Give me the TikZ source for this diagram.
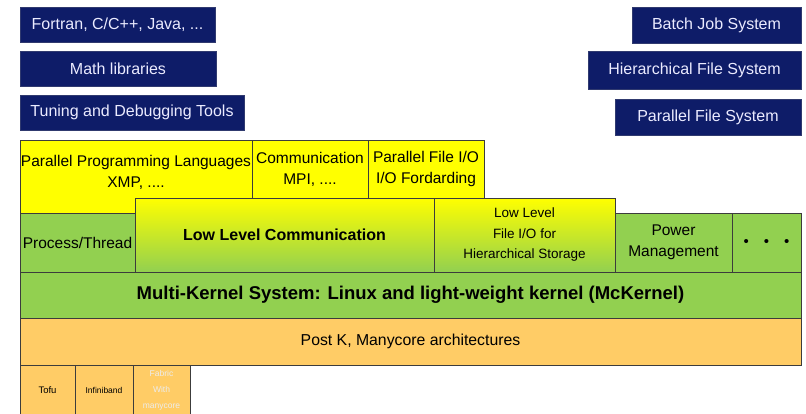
\documentclass[tikz,border=0pt]{standalone}
\usepackage{fontspec}
\setmainfont{Liberation Sans}
\definecolor{navy}{RGB}{14,28,104}
\definecolor{grn}{RGB}{146,208,80}
\definecolor{ylw}{RGB}{255,255,0}
\definecolor{org}{RGB}{255,204,102}
\definecolor{edge}{RGB}{60,60,60}
\tikzset{
  base/.style={anchor=north west, inner sep=0pt, outer sep=0pt, align=center},
  navybox/.style={base, fill=navy, draw=navy!70!gray, line width=0.6pt, text=white!92!blue, font=\fontsize{16}{18}\selectfont},
  ylwbox/.style={base, fill=ylw, draw=edge, line width=0.7pt, font=\fontsize{15.5}{21}\selectfont},
  grnbox/.style={base, fill=grn, draw=edge, line width=0.7pt, font=\fontsize{15.5}{21}\selectfont},
  gradbox/.style={base, draw=edge, line width=0.7pt, top color=ylw, middle color=grn, bottom color=grn},
  orgbox/.style={base, fill=org, draw=edge, line width=0.7pt, font=\fontsize{15.8}{18}\selectfont},
  tinybox/.style={base, fill=org, draw=edge, line width=0.7pt, font=\fontsize{8.5}{16}\selectfont},
}
\begin{document}
\begin{tikzpicture}[x=1pt,y=-1pt]
\useasboundingbox[fill=white] (0,0) rectangle (806,413);
% navy boxes
\node[navybox, minimum width=195pt, minimum height=35pt] (fortran) at (20,7) {Fortran, C/C++, Java, ...};
\node[navybox, minimum width=196pt, minimum height=35pt] (math) at (20,51) {Math libraries};
\node[navybox, minimum width=224pt, minimum height=35pt] (tuning) at (20,95) {Tuning and Debugging Tools};
\node[navybox, minimum width=169pt, minimum height=36pt] (batch) at (632,7) {Batch Job System};
\node[navybox, minimum width=213pt, minimum height=38pt] (hier) at (588,51) {Hierarchical File System};
\node[navybox, minimum width=186pt, minimum height=36pt] (pfs) at (615,99) {Parallel File System};
% yellow row
\node[ylwbox, minimum width=232pt, minimum height=73pt] (ppl) at (20,140) {};
\node[font=\fontsize{15.5}{21}\selectfont, align=center, inner sep=0pt] (ppltext) at (136,172) {Parallel Programming Languages\\XMP, ....};
\node[ylwbox, minimum width=116pt, minimum height=58pt] (comm) at (252,140) {Communication\\MPI, ....};
\node[ylwbox, minimum width=116pt, minimum height=58pt] (pfio) at (368,140) {Parallel File I/O\\I/O Fordarding};
% green row
\node[grnbox, minimum width=115pt, minimum height=59pt] (proc) at (20,213) {Process/Thread};
\node[gradbox, minimum width=299pt, minimum height=74pt, font=\bfseries\fontsize{16}{18}\selectfont] (llc) at (135,198) {Low Level Communication};
\node[gradbox, minimum width=181pt, minimum height=74pt, font=\fontsize{13.5}{20.5}\selectfont] (llfio) at (434,198) {Low Level\\File I/O for\\Hierarchical Storage};
\node[grnbox, minimum width=117pt, minimum height=59pt] (power) at (615,213) {Power\\Management};
\node[grnbox, minimum width=69pt, minimum height=59pt, font=\fontsize{15}{15}\selectfont] (dots) at (732,213) {\textbullet\hspace{15pt}\textbullet\hspace{15pt}\textbullet};
% full bars
\node[grnbox, minimum width=781pt, minimum height=46pt, font=\bfseries\fontsize{18.5}{20}\selectfont] (mk) at (20,272) {Multi-Kernel System: Linux and light-weight kernel (McKernel)};
\node[orgbox, minimum width=781pt, minimum height=47pt] (postk) at (20,318) {Post K, Manycore architectures};
% bottom boxes
\node[tinybox, minimum width=55pt, minimum height=50pt, font=\fontsize{9.5}{11}\selectfont] (tofu) at (20,365) {Tofu};
\node[tinybox, minimum width=58pt, minimum height=50pt] (infini) at (75,365) {Infiniband};
\node[tinybox, minimum width=57pt, minimum height=50pt, text=white!85!gray] (fabric) at (133,365) {Fabric\\With\\manycore};
\end{tikzpicture}
\end{document}
